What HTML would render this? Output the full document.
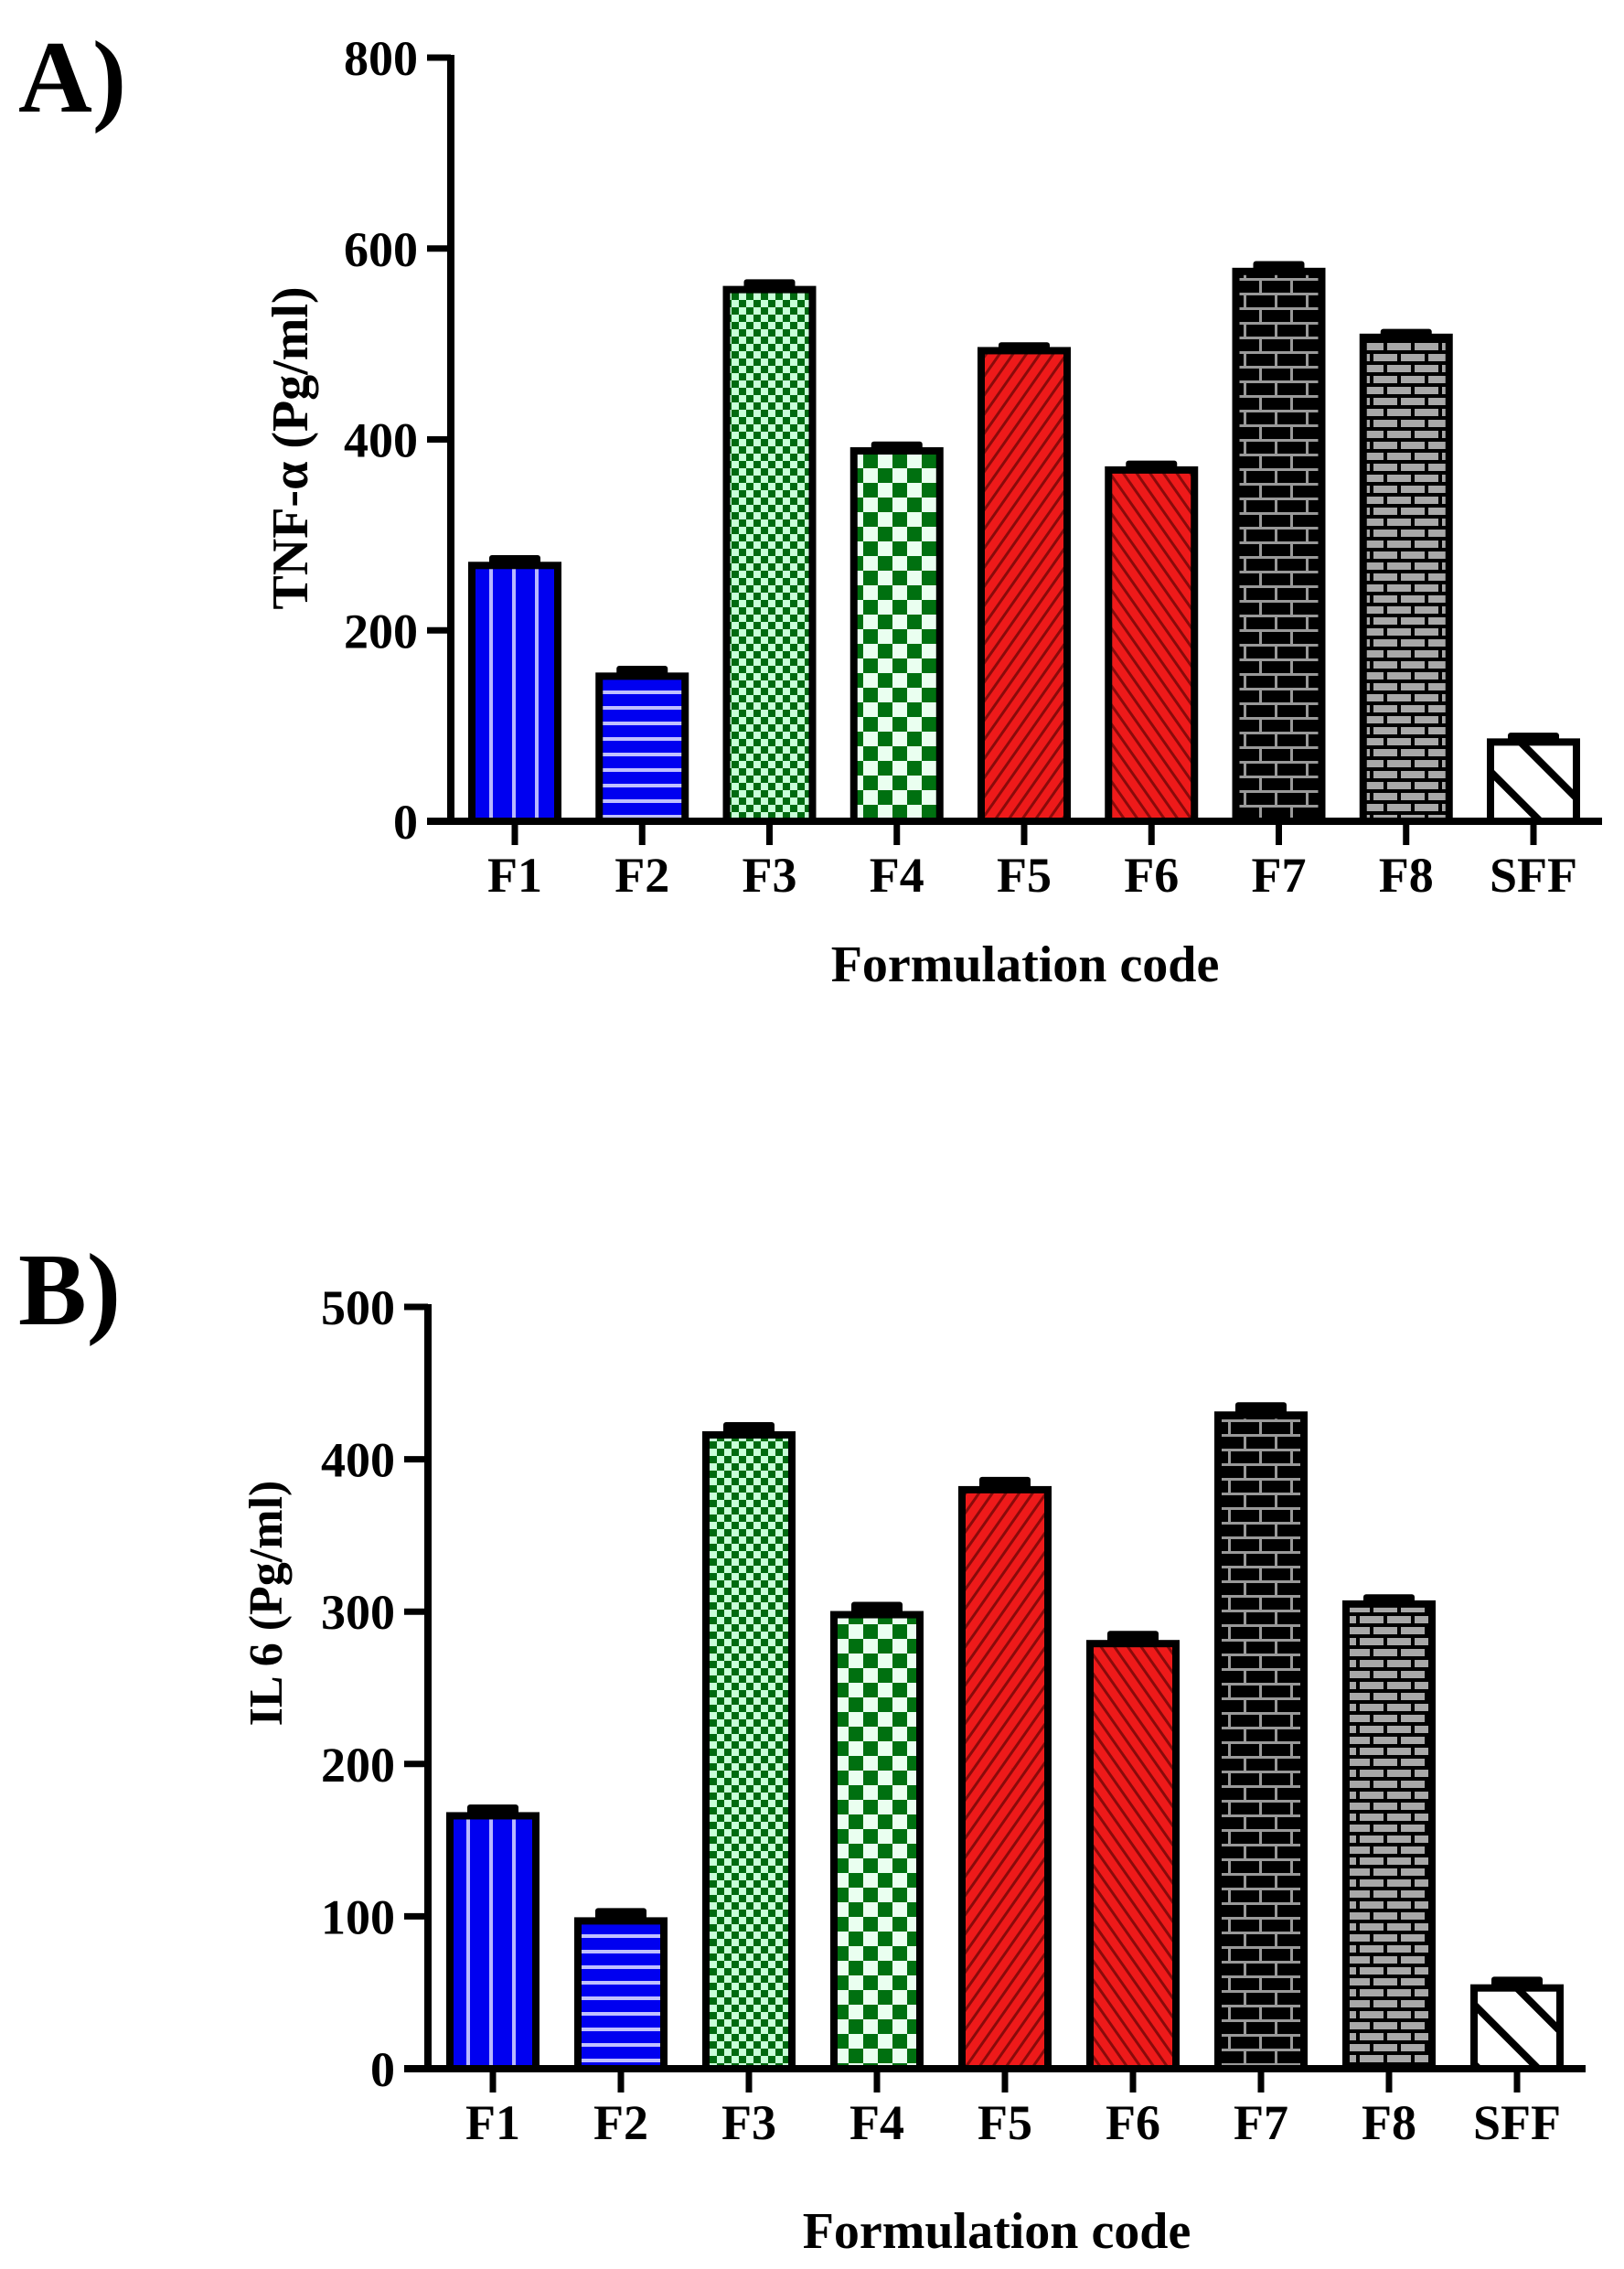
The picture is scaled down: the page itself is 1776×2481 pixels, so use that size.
<!DOCTYPE html>
<html><head><meta charset="utf-8">
<style>
html,body{margin:0;padding:0;background:#fff;}
svg{display:block;}
text{font-family:"Liberation Serif",serif;font-weight:bold;fill:#000;}
</style></head>
<body>
<svg id="fig" width="1776" height="2481" viewBox="0 0 1776 2481" xmlns="http://www.w3.org/2000/svg">
<defs>
  <pattern id="p-f1" patternUnits="userSpaceOnUse" width="25" height="10"><rect width="25" height="10" fill="#0000f0"/><rect x="10" width="4" height="10" fill="#b8b8ff"/></pattern>
  <pattern id="p-f2" patternUnits="userSpaceOnUse" width="10" height="17"><rect width="10" height="17" fill="#0000f0"/><rect y="7" width="10" height="4" fill="#c0c0ff"/></pattern>
  <pattern id="p-f3" patternUnits="userSpaceOnUse" width="16" height="16"><rect width="16" height="16" fill="#c8ffd8"/><rect width="8" height="8" fill="#006a10"/><rect x="8" y="8" width="8" height="8" fill="#006a10"/></pattern>
  <pattern id="p-f4" patternUnits="userSpaceOnUse" width="32" height="32"><rect width="32" height="32" fill="#eafff0"/><rect width="16" height="16" fill="#007010"/><rect x="16" y="16" width="16" height="16" fill="#007010"/></pattern>
  <pattern id="p-f5" patternUnits="userSpaceOnUse" width="12" height="12" patternTransform="rotate(35)"><rect width="12" height="12" fill="#ee1a1a"/><rect width="3" height="12" fill="#8a0a0a"/></pattern>
  <pattern id="p-f6" patternUnits="userSpaceOnUse" width="12" height="12" patternTransform="rotate(-35)"><rect width="12" height="12" fill="#ee1a1a"/><rect width="3" height="12" fill="#8a0a0a"/></pattern>
  <pattern id="p-f7" patternUnits="userSpaceOnUse" width="34" height="32"><rect width="34" height="32" fill="#000"/><rect width="34" height="3" fill="#999"/><rect y="16" width="34" height="3" fill="#999"/><rect x="0" y="0" width="3" height="16" fill="#999"/><rect x="17" y="16" width="3" height="16" fill="#999"/></pattern>
  <pattern id="p-f8" patternUnits="userSpaceOnUse" width="30" height="24"><rect width="30" height="24" fill="#000"/><rect x="2" y="3" width="26" height="8" fill="#a8a8a8"/><rect x="-13" y="15" width="26" height="8" fill="#a8a8a8"/><rect x="17" y="15" width="26" height="8" fill="#a8a8a8"/></pattern>
  <pattern id="p-sff" patternUnits="userSpaceOnUse" width="46" height="46" patternTransform="rotate(-45)"><rect width="46" height="46" fill="#fff"/><rect width="8" height="46" fill="#000"/></pattern>
</defs>

<text x="20" y="122" font-size="112">A)</text>
<text x="20" y="1448" font-size="112">B)</text>

<g id="chartA"></g>
<g id="chartB"></g>
</svg>
<script>
const categories = ["F1","F2","F3","F4","F5","F6","F7","F8","SFF"];
const tnfValues = [268,152,557,388,493,368,576,507,83];
const tnfErrors = [7,7,7,6,5,6,7,5,6];
const tnfTicks = [0,200,400,600,800];
const il6Values = [166,97,416,298,380,279,429,305,53];
const il6Errors = [5,6,6,6,6,6,6,4,5];
const il6Ticks = [0,100,200,300,400,500];
const patterns = ["p-f1","p-f2","p-f3","p-f4","p-f5","p-f6","p-f7","p-f8","p-sff"];

const NS = "http://www.w3.org/2000/svg";
function mk(tag, attrs, parent){
  const e = document.createElementNS(NS, tag);
  for (const k in attrs) e.setAttribute(k, attrs[k]);
  parent.appendChild(e);
  return e;
}

function drawChart(g, cfg){
  const yScale = v => cfg.y0 - (v / cfg.max) * (cfg.y0 - cfg.yTop);
  const xScale = i => cfg.x0 + i * cfg.step;
  cfg.values.forEach((v, i) => {
    const cx = xScale(i), bw = 94, top = yScale(v), ey = yScale(v + cfg.errors[i]);
    const bar = mk("rect", {x: cx - bw/2, y: top, width: bw, height: cfg.y0 - top, fill: "url(#" + patterns[i] + ")", stroke: "#000", "stroke-width": 8}, g);
    
    
    const cap = mk("rect", {x: cx - 28, y: ey - 4, width: 56, height: top - ey + 6, fill: "#000", rx: 3}, g);
    
    
    const tk = mk("line", {x1: cx, x2: cx, y1: cfg.y0, y2: cfg.y0 + 26, stroke: "#000", "stroke-width": 7}, g);
    
    
    const lb = mk("text", {x: cx, y: cfg.y0 + 77, "font-size": 54, "text-anchor": "middle"}, g);
    lb.textContent = categories[i];
    
    
  });
  const ya = mk("line", {x1: cfg.ax, x2: cfg.ax, y1: cfg.yTop - 3, y2: cfg.y0 + 3, stroke: "#000", "stroke-width": 8}, g);
  
  
  const xa = mk("line", {x1: cfg.ax - 26, x2: cfg.xEnd, y1: cfg.y0, y2: cfg.y0, stroke: "#000", "stroke-width": 8}, g);
  
  
  cfg.ticks.forEach(t => {
    const y = yScale(t);
    const tl = mk("line", {x1: cfg.ax - 26, x2: cfg.ax, y1: y, y2: y, stroke: "#000", "stroke-width": 7}, g);
    
    
    const tx = mk("text", {x: cfg.ax - 36, y: y + 19, "font-size": 54, "text-anchor": "end"}, g);
    tx.textContent = String(t);
    
    
  });
  const yt = mk("text", {x: 0, y: 0, "font-size": cfg.ytSize, "text-anchor": "middle", transform: "translate(" + cfg.ytX + "," + cfg.ytY + ") rotate(-90)"}, g);
  yt.textContent = cfg.yTitle;
  
  
  const xt = mk("text", {x: cfg.xtX, y: cfg.xtY, "font-size": 56, "text-anchor": "middle"}, g);
  xt.textContent = "Formulation code";
  
  
}

drawChart(document.getElementById("chartA"), {
  values: tnfValues, errors: tnfErrors, ticks: tnfTicks, max: 800,
  ax: 493, yTop: 63, y0: 898, x0: 563, step: 139.25, xEnd: 1752,
  yTitle: "TNF-\u03b1  (Pg/ml)", ytSize: 56, ytX: 336, ytY: 490, xtX: 1121, xtY: 1073
});
drawChart(document.getElementById("chartB"), {
  values: il6Values, errors: il6Errors, ticks: il6Ticks, max: 500,
  ax: 468, yTop: 1429, y0: 2262, x0: 539, step: 140, xEnd: 1734,
  yTitle: "IL 6 (Pg/ml)", ytSize: 52, ytX: 308, ytY: 1753, xtX: 1090, xtY: 2458
});
</script>
</body></html>
